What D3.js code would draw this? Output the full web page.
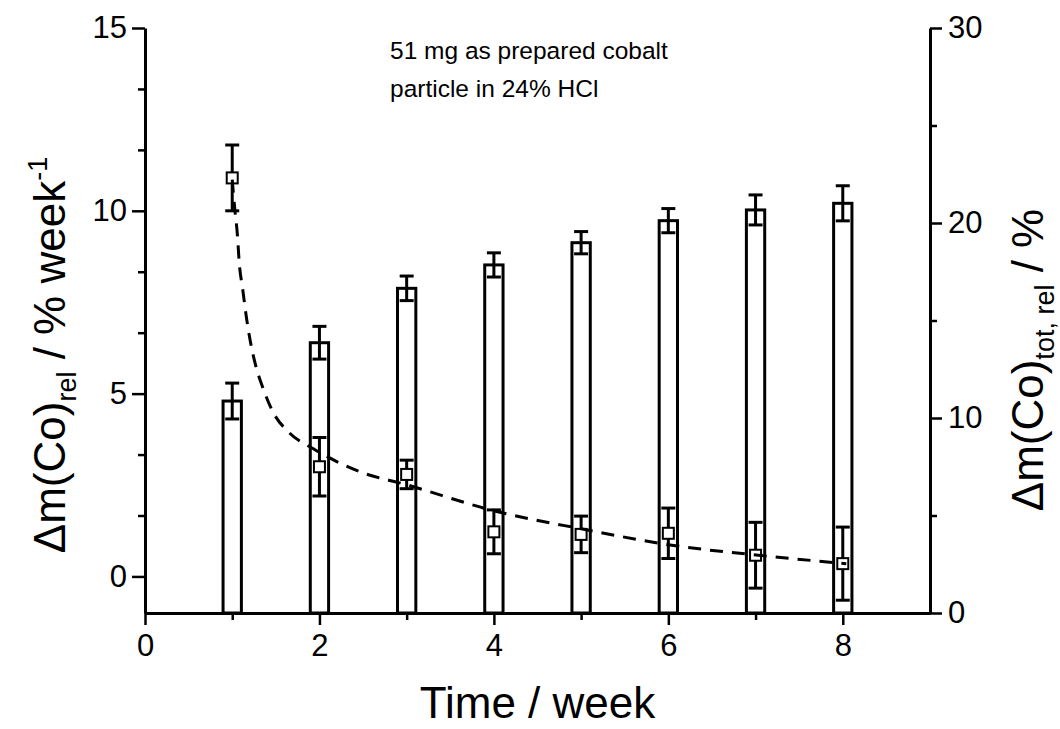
<!DOCTYPE html>
<html>
<head>
<meta charset="utf-8">
<script src="https://cdn.jsdelivr.net/npm/d3@7"></script>
<style>
  body { margin: 0; background: #fff; }
  svg { display: block; font-family: Arial, "Liberation Sans", sans-serif; }
</style>
</head>
<body>
<svg id="chart" width="1060" height="729"></svg>
<script>
// === Données ===
const weeks = [1, 2, 3, 4, 5, 6, 7, 8];
// perte relative par semaine (axe gauche, carrés)
const relLoss = [10.9, 3.0, 2.79, 1.22, 1.15, 1.18, 0.58, 0.35];
const relLossErr = [0.9, 0.8, 0.39, 0.6, 0.5, 0.69, 0.9, 1.0];
// perte totale cumulée (axe droit, barres)
const totLoss = [10.87, 13.86, 16.65, 17.85, 18.99, 20.12, 20.67, 21.01];
const totLossErr = [0.92, 0.84, 0.63, 0.62, 0.57, 0.62, 0.77, 0.9];
// courbe d'ajustement (pointillés), points relevés
const fitX = [1.0, 1.03, 1.06, 1.08, 1.12, 1.16, 1.21, 1.27, 1.35, 1.46, 1.65, 1.94, 2.49, 2.98, 4.01, 5.03, 6.02, 7.03, 8.04];
const fitY = [10.85, 10.03, 9.32, 8.59, 7.86, 7.13, 6.4, 5.76, 5.17, 4.53, 3.94, 3.48, 2.84, 2.52, 1.79, 1.29, 0.86, 0.58, 0.35];

// graduations
const xTicks = [0, 2, 4, 6, 8];
const xMinor = [1, 3, 5, 7];
const yLeftTicks = [0, 5, 10, 15];
const yRightTicks = [0, 10, 20, 30];
const yRightMinor = [5, 15, 25];

const svg = d3.select('#chart');
const x0 = 145, x1 = 930, yTop = 28, yBot = 613;

const x = d3.scaleLinear().domain([0, 9]).range([x0, x1]);
const yL = d3.scaleLinear().domain([-1, 15]).range([yBot, yTop]);
const yR = d3.scaleLinear().domain([0, 30]).range([yBot, yTop]);

// petites graduations gauche : 2 par intervalle
const yLeftMinor = [];
yLeftTicks.slice(0, -1).forEach(t => { yLeftMinor.push(t + 5 / 3, t + 10 / 3); });

const barW = x(0.21) - x(0);
const capW = 14;

// === Barres (axe droit) ===
const bars = svg.append('g');
bars.selectAll('rect').data(weeks).enter().append('rect')
  .attr('x', (d) => x(d) - barW / 2)
  .attr('y', (d, i) => yR(totLoss[i]))
  .attr('width', barW)
  .attr('height', (d, i) => yR(0) - yR(totLoss[i]))
  .attr('fill', '#fff')
  .attr('stroke', '#000')
  .attr('stroke-width', 3);

// barres d'erreur
function errorBars(g, vals, errs, yScale) {
  const eb = g.selectAll('g.eb').data(weeks).enter().append('g').attr('class', 'eb');
  eb.append('line')
    .attr('x1', d => x(d)).attr('x2', d => x(d))
    .attr('y1', (d, i) => yScale(vals[i] + errs[i]))
    .attr('y2', (d, i) => yScale(vals[i] - errs[i]));
  eb.append('line')
    .attr('x1', d => x(d) - capW / 2).attr('x2', d => x(d) + capW / 2)
    .attr('y1', (d, i) => yScale(vals[i] + errs[i]))
    .attr('y2', (d, i) => yScale(vals[i] + errs[i]));
  eb.append('line')
    .attr('x1', d => x(d) - capW / 2).attr('x2', d => x(d) + capW / 2)
    .attr('y1', (d, i) => yScale(vals[i] - errs[i]))
    .attr('y2', (d, i) => yScale(vals[i] - errs[i]));
  eb.selectAll('line').attr('stroke', '#000').attr('stroke-width', 3);
}
errorBars(svg.append('g'), totLoss, totLossErr, yR);
errorBars(svg.append('g'), relLoss, relLossErr, yL);

// === Carrés (axe gauche) ===
const sq = 11;
svg.append('g').selectAll('rect').data(weeks).enter().append('rect')
  .attr('x', d => x(d) - sq / 2)
  .attr('y', (d, i) => yL(relLoss[i]) - sq / 2)
  .attr('width', sq).attr('height', sq)
  .attr('fill', '#fff').attr('stroke', '#000').attr('stroke-width', 2);

// === Courbe d'ajustement ===
const line = d3.line()
  .x((d, i) => x(fitX[i]))
  .y(d => yL(d))
  .curve(d3.curveMonotoneX);
svg.append('path')
  .attr('d', line(fitY))
  .attr('fill', 'none')
  .attr('stroke', '#000')
  .attr('stroke-width', 3)
  .attr('stroke-dasharray', '13,9');

// === Axes ===
function styleAxis(g) {
  g.select('.domain').attr('stroke-width', 3);
  g.selectAll('.tick line').attr('stroke-width', 2.5);
  g.selectAll('.tick text').attr('font-size', 31).attr('fill', '#000')
    .attr('font-family', 'Arial, "Liberation Sans", sans-serif');
}

// axe X
const gx = svg.append('g').attr('transform', `translate(0,${yBot})`)
  .call(d3.axisBottom(x).tickValues(xTicks).tickSize(12).tickSizeOuter(0).tickPadding(9));
styleAxis(gx);
const gxm = svg.append('g').attr('transform', `translate(0,${yBot})`)
  .call(d3.axisBottom(x).tickValues(xMinor).tickSize(7).tickFormat(''));
gxm.select('.domain').remove();
gxm.selectAll('.tick line').attr('stroke-width', 2.5);

// axe gauche
const gl = svg.append('g').attr('transform', `translate(${x0},0)`)
  .call(d3.axisLeft(yL).tickValues(yLeftTicks).tickSize(13).tickSizeOuter(0).tickPadding(5));
styleAxis(gl);
const glm = svg.append('g').attr('transform', `translate(${x0},0)`)
  .call(d3.axisLeft(yL).tickValues(yLeftMinor).tickSize(7).tickFormat(''));
glm.select('.domain').remove();
glm.selectAll('.tick line').attr('stroke-width', 2.5);

// axe droit
const gr = svg.append('g').attr('transform', `translate(${x1},0)`)
  .call(d3.axisRight(yR).tickValues(yRightTicks).tickSize(12).tickSizeOuter(0).tickPadding(6));
styleAxis(gr);
const grm = svg.append('g').attr('transform', `translate(${x1},0)`)
  .call(d3.axisRight(yR).tickValues(yRightMinor).tickSize(7).tickFormat(''));
grm.select('.domain').remove();
grm.selectAll('.tick line').attr('stroke-width', 2.5);

// === Titres ===
svg.append('text')
  .attr('x', (x0 + x1) / 2).attr('y', 718)
  .attr('text-anchor', 'middle')
  .attr('font-size', 44)
  .text('Time / week');

const tl = svg.append('text')
  .attr('transform', 'translate(65,355) rotate(-90)')
  .attr('text-anchor', 'middle')
  .attr('font-size', 44);
tl.append('tspan').text('\u0394m(Co)');
tl.append('tspan').attr('font-size', 27).attr('dy', 11).text('rel');
tl.append('tspan').attr('dy', -11).text(' / % week');
tl.append('tspan').attr('font-size', 27).attr('dy', -18).text('-1');

const tr = svg.append('text')
  .attr('transform', 'translate(1043,360) rotate(-90)')
  .attr('text-anchor', 'middle')
  .attr('font-size', 44);
tr.append('tspan').text('\u0394m(Co)');
tr.append('tspan').attr('font-size', 27).attr('dy', 11).text('tot, rel');
tr.append('tspan').attr('dy', -11).text(' / %');

// annotation
const note = svg.append('text').attr('font-size', 24.5);
note.append('tspan').attr('x', 390).attr('y', 59).text('51 mg as prepared cobalt');
note.append('tspan').attr('x', 390).attr('y', 97).text('particle in 24% HCl');
</script>
</body>
</html>
